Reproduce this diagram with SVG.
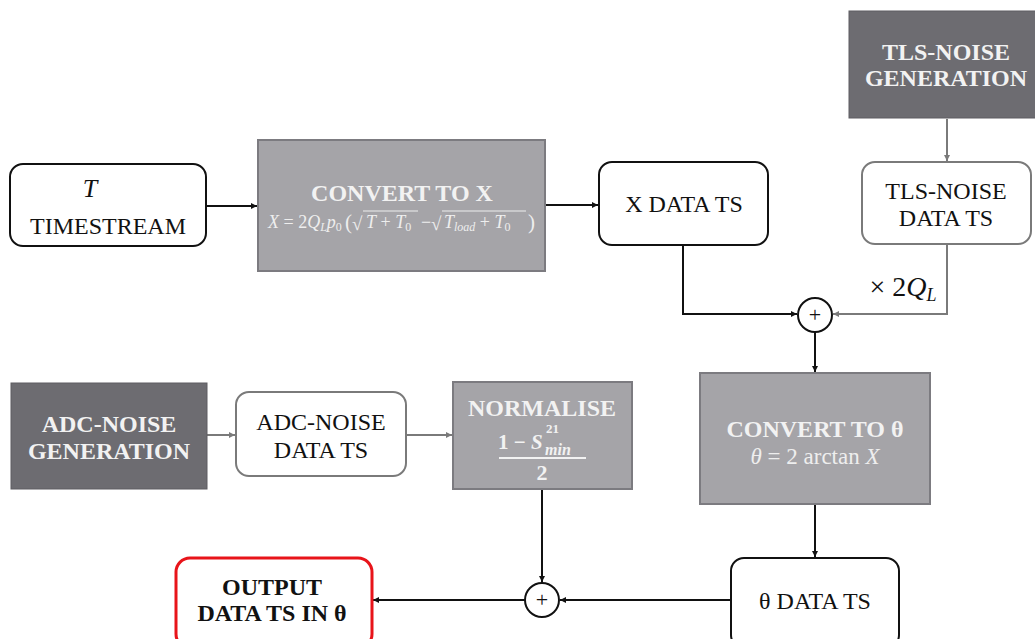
<svg xmlns="http://www.w3.org/2000/svg" width="1035" height="639" viewBox="0 0 1035 639">
  <style>
    text { font-family: 'Liberation Serif', serif !important; }
    .c { text-anchor: middle; }
    .lbl { font-size: 24px; fill: #111; text-anchor: middle; }
    .bold { font-size: 24px; font-weight: bold; fill: #f2f2f2; text-anchor: middle; }
    .boldk { font-size: 24px; font-weight: bold; fill: #111; text-anchor: middle; }
    .m { font-size: 18px; fill: #eeeeee; }
    .it { font-style: italic; }
    .rnd { fill: #fff; stroke: #111; stroke-width: 2; }
    .rndg { fill: #fff; stroke: #7a7a7a; stroke-width: 2; }
    .proc { fill: #a5a4a8; stroke: #7c7b80; stroke-width: 2; }
    .gen { fill: #6d6c71; stroke: #5e5d62; stroke-width: 1; }
    .wk { fill: none; stroke: #111; stroke-width: 2; }
    .wg { fill: none; stroke: #7a7a7a; stroke-width: 2; }
    .sum { fill: #fff; stroke: #111; stroke-width: 2; }
    .bar { stroke: #eeeeee; stroke-width: 1.2; }
  </style>
  <defs>
    <marker id="ak" viewBox="0 0 10 10" refX="10" refY="5" markerWidth="6" markerHeight="6" orient="auto" markerUnits="userSpaceOnUse">
      <path d="M0,0 L10,5 L0,10 z" fill="#111"/>
    </marker>
    <marker id="ag" viewBox="0 0 10 10" refX="10" refY="5" markerWidth="6" markerHeight="6" orient="auto" markerUnits="userSpaceOnUse">
      <path d="M0,0 L10,5 L0,10 z" fill="#7a7a7a"/>
    </marker>
  </defs>

  <rect width="1035" height="639" fill="#fff"/>

  <g id="connectors">
    <line class="wk" x1="206" y1="206" x2="257" y2="206" marker-end="url(#ak)"/>
    <line class="wk" x1="545" y1="205" x2="598" y2="205" marker-end="url(#ak)"/>
    <line class="wg" x1="947" y1="119" x2="947" y2="161" marker-end="url(#ag)"/>
    <polyline class="wk" points="683,245 683,314 797,314" marker-end="url(#ak)"/>
    <polyline class="wg" points="947,244 947,314 833,314" marker-end="url(#ag)"/>
    <line class="wk" x1="815" y1="332" x2="815" y2="372" marker-end="url(#ak)"/>
    <line class="wk" x1="815" y1="505" x2="815" y2="557" marker-end="url(#ak)"/>
    <line class="wk" x1="731" y1="600" x2="560" y2="600" marker-end="url(#ak)"/>
    <line class="wk" x1="542" y1="490" x2="542" y2="582" marker-end="url(#ak)"/>
    <line class="wk" x1="525" y1="600" x2="373" y2="600" marker-end="url(#ak)"/>
    <line class="wg" x1="207" y1="435" x2="235" y2="435" marker-end="url(#ag)"/>
    <line class="wg" x1="406" y1="435" x2="452" y2="435" marker-end="url(#ag)"/>
  </g>

  <g id="timestream">
    <rect class="rnd" x="10" y="164" width="196" height="82" rx="13"/>
    <text x="90" y="197" class="c it" style="font-family:'Liberation Serif'; font-size:26px; fill:#111;">T</text>
    <text class="lbl" x="108" y="234" style="font-family:'Liberation Serif'">TIMESTREAM</text>
  </g>

  <g id="convert-x">
    <rect class="proc" x="258" y="140" width="287" height="131"/>
    <text class="bold" x="402" y="201" style="font-family:'Liberation Serif'">CONVERT TO X</text>
    <!-- X = 2 Q_L p_0 ( sqrt(T + T_0) - sqrt(T_load + T_0) ) -->
    <text class="m" x="268" y="228" style="font-family:'Liberation Serif'"><tspan class="it">X</tspan> = 2<tspan class="it">Q</tspan><tspan class="it" font-size="12" dy="3">L</tspan><tspan class="it" dy="-3">p</tspan><tspan font-size="12" dy="3">0</tspan></text>
    <text class="m" x="345" y="229" style="font-family:'Liberation Serif'; font-size:21px">(</text>
    <text class="m" x="352" y="230" style="font-family:'Liberation Serif'; font-size:19px">√</text>
    <line class="bar" x1="363" y1="211" x2="418" y2="211"/>
    <text class="m" x="366" y="228" style="font-family:'Liberation Serif'"><tspan class="it">T</tspan> + <tspan class="it">T</tspan><tspan font-size="12" dy="3">0</tspan></text>
    <text class="m" x="421" y="228" style="font-family:'Liberation Serif'">−</text>
    <text class="m" x="431" y="230" style="font-family:'Liberation Serif'; font-size:19px">√</text>
    <line class="bar" x1="442" y1="211" x2="526" y2="211"/>
    <text class="m" x="444" y="228" style="font-family:'Liberation Serif'"><tspan class="it">T</tspan><tspan class="it" font-size="12" dy="3">load</tspan><tspan dy="-3"> + </tspan><tspan class="it">T</tspan><tspan font-size="12" dy="3">0</tspan></text>
    <text class="m" x="528" y="229" style="font-family:'Liberation Serif'; font-size:21px">)</text>
  </g>

  <g id="x-data">
    <rect class="rnd" x="599" y="162" width="169" height="83" rx="13"/>
    <text class="lbl" x="684" y="212" style="font-family:'Liberation Serif'">X DATA TS</text>
  </g>

  <g id="tls-gen">
    <rect class="gen" x="849" y="11" width="190" height="107"/>
    <text class="bold" x="946" y="60" style="font-family:'Liberation Serif'">TLS-NOISE</text>
    <text class="bold" x="946" y="86" style="font-family:'Liberation Serif'">GENERATION</text>
  </g>

  <g id="tls-data">
    <rect class="rndg" x="862" y="162" width="169" height="82" rx="13"/>
    <text class="lbl" x="946" y="199" style="font-family:'Liberation Serif'">TLS-NOISE</text>
    <text class="lbl" x="946" y="226" style="font-family:'Liberation Serif'">DATA TS</text>
  </g>

  <g id="tls-gain">
    <text x="903" y="296" class="c" style="font-family:'Liberation Serif'; font-size:28px; fill:#111;">× 2<tspan class="it">Q</tspan><tspan class="it" font-size="18" dy="5">L</tspan></text>
  </g>

  <g id="sum-top">
    <circle class="sum" cx="815" cy="315" r="17"/>
    <text x="815" y="322" class="c" style="font-family:'Liberation Serif'; font-size:22px; fill:#111;">+</text>
  </g>

  <g id="convert-theta">
    <rect class="proc" x="700" y="373" width="230" height="131"/>
    <text class="bold" x="815" y="437" style="font-family:'Liberation Serif'">CONVERT TO θ</text>
    <text x="815" y="464" class="c" style="font-family:'Liberation Serif'; font-size:23px; fill:#eeeeee;"><tspan class="it">θ</tspan> = 2 arctan <tspan class="it">X</tspan></text>
  </g>

  <g id="theta-data">
    <rect class="rnd" x="731" y="558" width="168" height="90" rx="13"/>
    <text class="lbl" x="815" y="609" style="font-family:'Liberation Serif'">θ DATA TS</text>
  </g>

  <g id="sum-bottom">
    <circle class="sum" cx="542" cy="600" r="17"/>
    <text x="542" y="607" class="c" style="font-family:'Liberation Serif'; font-size:22px; fill:#111;">+</text>
  </g>

  <g id="output">
    <rect x="176" y="558" width="196" height="90" rx="14" fill="#fff" stroke="#e8141a" stroke-width="3"/>
    <text class="boldk" x="272" y="595" style="font-family:'Liberation Serif'">OUTPUT</text>
    <text class="boldk" x="272" y="621" style="font-family:'Liberation Serif'">DATA TS IN θ</text>
  </g>

  <g id="adc-gen">
    <rect class="gen" x="11" y="383" width="196" height="106"/>
    <text class="bold" x="109" y="432" style="font-family:'Liberation Serif'">ADC-NOISE</text>
    <text class="bold" x="109" y="459" style="font-family:'Liberation Serif'">GENERATION</text>
  </g>

  <g id="adc-data">
    <rect class="rndg" x="236" y="392" width="170" height="84" rx="13"/>
    <text class="lbl" x="321" y="430" style="font-family:'Liberation Serif'">ADC-NOISE</text>
    <text class="lbl" x="321" y="458" style="font-family:'Liberation Serif'">DATA TS</text>
  </g>

  <g id="normalise">
    <rect class="proc" x="453" y="382" width="179" height="107"/>
    <text class="bold" x="542" y="416" style="font-family:'Liberation Serif'">NORMALISE</text>
    <!-- (1 - S^21_min) / 2 -->
    <text x="498" y="449" style="font-family:'Liberation Serif'; font-size:21px; font-weight:bold; fill:#f2f2f2;">1 − <tspan class="it">S</tspan></text>
    <text x="546" y="433" style="font-family:'Liberation Serif'; font-size:13px; font-weight:bold; fill:#f2f2f2;">21</text>
    <text x="545" y="455" style="font-family:'Liberation Serif'; font-size:16px; font-weight:bold; font-style:italic; fill:#f2f2f2;">min</text>
    <line x1="499" y1="458" x2="586" y2="458" stroke="#f2f2f2" stroke-width="2"/>
    <text x="542" y="480" class="c" style="font-family:'Liberation Serif'; font-size:22px; font-weight:bold; fill:#f2f2f2;">2</text>
  </g>
</svg>
